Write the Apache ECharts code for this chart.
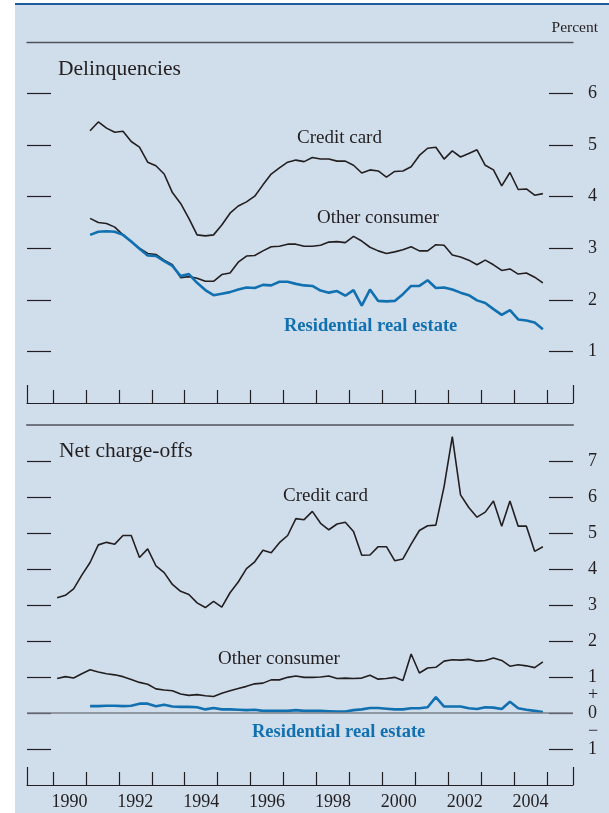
<!DOCTYPE html>
<html>
<head>
<meta charset="utf-8">
<script src="https://cdn.jsdelivr.net/npm/echarts@6/dist/echarts.min.js"></script>
<style>
  body { margin: 0; background: #fff; }
  #wrap { position: relative; width: 609px; height: 813px; }
  #bg { position: absolute; left: 15px; top: 3px; width: 594px; height: 810px;
        background: #d0ddeb; border-top: 2.5px solid #1d5c9c; box-sizing: border-box; }
  #chart { position: absolute; left: 0; top: 0; width: 609px; height: 813px; }
</style>
</head>
<body>
<div id="wrap">
  <div id="bg"></div>
  <div id="chart"></div>
</div>
<script>
// quarterly data, delinquencies 1991Q1-2004Q4, charge-offs from 1990Q1 (cc, other) / 1991Q1 (res.)
var delinqStart = 1991;
var delinqCreditCard = [5.28,5.45,5.33,5.25,5.27,5.07,4.96,4.67,4.60,4.44,4.08,3.87,3.58,3.26,3.24,3.26,
  3.45,3.68,3.82,3.90,4.01,4.23,4.44,4.56,4.67,4.71,4.68,4.76,4.73,4.73,4.69,4.69,4.61,4.46,4.52,4.50,
  4.38,4.49,4.50,4.58,4.80,4.94,4.96,4.73,4.89,4.77,4.84,4.91,4.61,4.52,4.21,4.47,4.14,4.15,4.03,4.06];
var delinqOther = [3.58,3.50,3.48,3.41,3.26,3.13,3.00,2.90,2.88,2.77,2.68,2.43,2.45,2.42,2.36,2.36,
  2.49,2.52,2.73,2.85,2.86,2.95,3.03,3.04,3.08,3.08,3.04,3.04,3.06,3.12,3.13,3.11,3.23,3.14,3.02,2.95,
  2.90,2.93,2.97,3.03,2.95,2.95,3.07,3.06,2.87,2.83,2.77,2.68,2.77,2.68,2.57,2.60,2.50,2.52,2.44,2.33];
var delinqResidential = [3.26,3.32,3.33,3.32,3.26,3.13,2.99,2.86,2.85,2.75,2.66,2.46,2.50,2.33,2.19,2.09,
  2.12,2.15,2.20,2.24,2.23,2.29,2.28,2.35,2.35,2.31,2.28,2.27,2.18,2.14,2.17,2.08,2.19,1.89,2.20,1.98,
  1.97,1.98,2.11,2.27,2.27,2.38,2.23,2.24,2.20,2.14,2.09,1.99,1.94,1.82,1.71,1.80,1.62,1.60,1.56,1.43];

var chargeStart = 1990;
var chargeCreditCard = [3.20,3.27,3.45,3.83,4.18,4.67,4.74,4.69,4.93,4.93,4.32,4.56,4.09,3.90,3.57,3.38,
  3.29,3.06,2.93,3.10,2.94,3.34,3.64,4.01,4.20,4.52,4.45,4.73,4.93,5.40,5.37,5.60,5.27,5.09,5.25,5.30,
  5.04,4.38,4.39,4.62,4.62,4.23,4.28,4.69,5.07,5.20,5.22,6.29,7.68,6.06,5.71,5.44,5.58,5.89,5.19,5.89,
  5.19,5.19,4.49,4.62];
var chargeOther = [0.96,1.01,0.97,1.09,1.20,1.14,1.09,1.06,1.01,0.93,0.85,0.80,0.67,0.64,0.62,0.53,
  0.49,0.51,0.48,0.46,0.55,0.62,0.68,0.74,0.81,0.83,0.92,0.92,0.99,1.03,0.99,0.99,1.00,1.03,0.96,0.97,
  0.96,0.97,1.05,0.94,0.96,0.99,0.90,1.64,1.11,1.25,1.27,1.44,1.48,1.47,1.49,1.44,1.46,1.53,1.46,1.30,
  1.34,1.31,1.26,1.42];
var chargeResStart = 1991;
var chargeResidential = [0.19,0.19,0.20,0.20,0.19,0.20,0.26,0.26,0.19,0.23,0.18,0.17,0.17,0.16,0.10,0.14,
  0.10,0.10,0.09,0.08,0.09,0.06,0.06,0.06,0.06,0.08,0.06,0.06,0.06,0.05,0.04,0.04,0.08,0.10,0.14,0.14,
  0.12,0.10,0.10,0.13,0.13,0.16,0.44,0.18,0.18,0.18,0.13,0.11,0.16,0.15,0.11,0.31,0.13,0.09,0.06,0.03];

var yearTicks = [1990,1991,1992,1993,1994,1995,1996,1997,1998,1999,2000,2001,2002,2003,2004,2005];
var yearLabels = [1990,1992,1994,1996,1998,2000,2002,2004];
var delinqTicks = [1,2,3,4,5,6];
var chargeTicks = [-1,0,1,2,3,4,5,6,7];

var FONT = '"Liberation Serif", "Times New Roman", serif';
var INK = '#231f20';
var BLUE = '#1170b0';
var X_MIN = 1989.21, X_MAX = 2005.79;

// quarter i after start year, plotted mid-quarter
function toQuarters(start, values) {
    return values.map(function (v, i) { return [start + (i + 0.5) / 4, v]; });
}

function bottomAxis(grid, withLabels) {
    return {
        type: 'value', gridIndex: grid, position: 'bottom', min: X_MIN, max: X_MAX,
        axisLine: { onZero: false, lineStyle: { color: INK, width: 1.2 } },
        axisTick: { inside: true, length: 13, customValues: yearTicks, lineStyle: { color: INK, width: 1.2 } },
        axisLabel: withLabels ? {
            customValues: yearLabels.map(function (y) { return y + 0.5; }),
            formatter: function (v) { return String(Math.floor(v)); },
            color: INK, fontFamily: FONT, fontSize: 18, margin: 8
        } : { show: false },
        splitLine: { show: false }
    };
}
function edgeAxis(grid) {
    return {
        type: 'value', gridIndex: grid, position: 'bottom', min: X_MIN, max: X_MAX,
        axisLine: { show: false, onZero: false },
        axisTick: { inside: true, length: 18, customValues: [X_MIN, X_MAX], lineStyle: { color: INK, width: 1.2 } },
        axisLabel: { show: false }, splitLine: { show: false }
    };
}
function topAxis(grid, color, width) {
    return {
        type: 'value', gridIndex: grid, position: 'top', min: X_MIN, max: X_MAX,
        axisLine: { onZero: false, lineStyle: { color: color, width: width } },
        axisTick: { show: false }, axisLabel: { show: false }, splitLine: { show: false }
    };
}
function sideAxis(grid, pos, min, max, ticks, labels) {
    return {
        type: 'value', gridIndex: grid, position: pos, min: min, max: max,
        axisLine: { show: false, onZero: false },
        axisTick: { show: true, inside: true, length: 24, customValues: ticks, lineStyle: { color: INK, width: 1.2 } },
        axisLabel: labels ? {
            customValues: labels,
            formatter: function (v) {
                if (v === 0.5) return '+';
                if (v === -0.5) return '\u2212';
                return String(Math.abs(v));
            },
            color: INK, fontFamily: FONT, fontSize: 18, margin: 15, align: 'left'
        } : { show: false },
        splitLine: { show: false }
    };
}
function line(name, x, y, data, color, width, extra) {
    var s = {
        name: name, type: 'line', xAxisIndex: x, yAxisIndex: y, data: data,
        showSymbol: false, symbol: 'none', silent: true,
        lineStyle: { color: color, width: width }, itemStyle: { color: color }
    };
    return Object.assign(s, extra || {});
}
function txt(text, x, y, size, color, bold, align) {
    return {
        type: 'text', x: x, y: y, silent: true,
        style: {
            text: text, fill: color, font: (bold ? 'bold ' : '') + size + 'px ' + FONT,
            textAlign: align || 'left', textVerticalAlign: 'middle'
        }
    };
}

var myChart = echarts.init(document.getElementById('chart'), null, { renderer: 'canvas' });
var option = {
    animation: false,
    backgroundColor: 'transparent',
    grid: [
        { left: 27, right: 36, top: 42, height: 361, outerBoundsMode: 'none' },
        { left: 27, right: 36, top: 425, height: 360, outerBoundsMode: 'none' }
    ],
    xAxis: [
        bottomAxis(0, false), topAxis(0, '#50555c', 1.3), edgeAxis(0),
        bottomAxis(1, true), topAxis(1, '#6f757e', 2.2), edgeAxis(1)
    ],
    yAxis: [
        sideAxis(0, 'left', 0, 7, delinqTicks, null),
        sideAxis(0, 'right', 0, 7, delinqTicks, delinqTicks),
        sideAxis(1, 'left', -2, 8, chargeTicks, null),
        sideAxis(1, 'right', -2, 8, chargeTicks, [-1, -0.5, 0, 0.5, 1, 2, 3, 4, 5, 6, 7])
    ],
    graphic: [
        txt('Percent', 598, 28, 15.5, INK, false, 'right'),
        txt('Delinquencies', 58, 69, 21.5, INK),
        txt('Net charge-offs', 59, 451, 21.5, INK),
        txt('Credit card', 297, 138, 19, INK),
        txt('Other consumer', 317, 218, 19, INK),
        txt('Residential real estate', 284, 326, 18.5, BLUE, true),
        txt('Credit card', 283, 496, 19, INK),
        txt('Other consumer', 218, 659, 19, INK),
        txt('Residential real estate', 252, 732, 18.5, BLUE, true)
    ],
    series: [
        line('Credit card', 0, 0, toQuarters(delinqStart, delinqCreditCard), INK, 1.6),
        line('Other consumer', 0, 0, toQuarters(delinqStart, delinqOther), INK, 1.6),
        line('Residential real estate', 0, 0, toQuarters(delinqStart, delinqResidential), BLUE, 2.6),
        line('Credit card', 3, 2, toQuarters(chargeStart, chargeCreditCard), INK, 1.6),
        line('Other consumer', 3, 2, toQuarters(chargeStart, chargeOther), INK, 1.6, {
            markLine: {
                silent: true, symbol: 'none', label: { show: false },
                lineStyle: { color: '#7a7f88', width: 1.5, type: 'solid' },
                data: [{ yAxis: 0 }]
            }
        }),
        line('Residential real estate', 3, 2, toQuarters(chargeResStart, chargeResidential), BLUE, 2.6)
    ]
};
myChart.setOption(option);
</script>
</body>
</html>
